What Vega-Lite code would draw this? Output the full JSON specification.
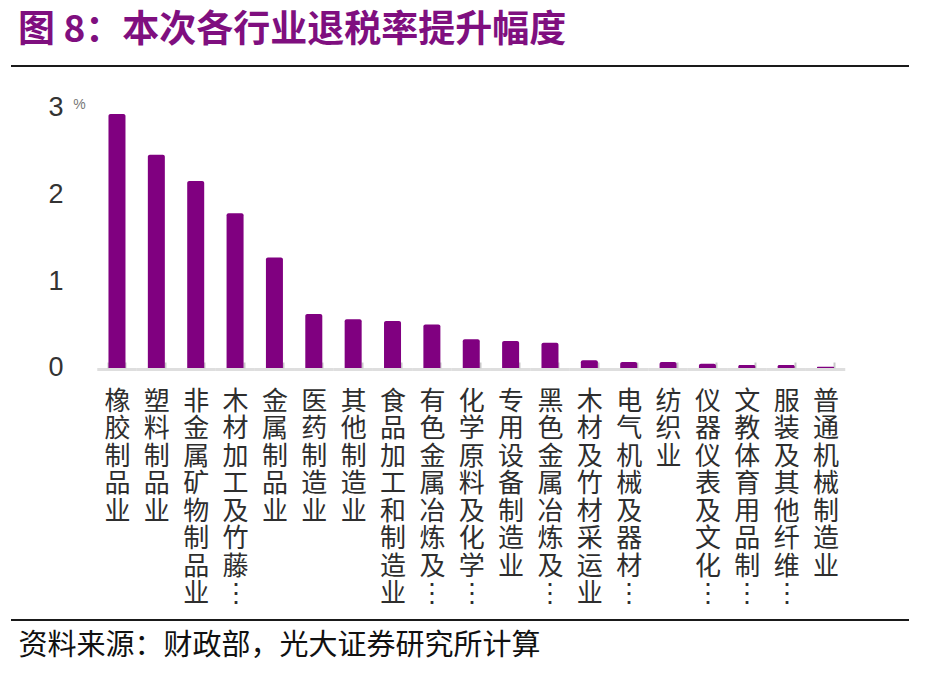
{
  "$schema": "https://vega.github.io/schema/vega-lite/v6.json",
  "width": 898,
  "height": 554,
  "autosize": {"type": "none"},
  "padding": {"left": 11, "top": 66, "right": 17, "bottom": 54},
  "background": "white",
  "config": {"view": {"stroke": null}},
  "title": {
    "text": "图 8：本次各行业退税率提升幅度",
    "anchor": "start",
    "frame": "group",
    "orient": "top",
    "offset": -14,
    "dx": 7,
    "font": "Noto Sans CJK SC",
    "fontSize": 37,
    "fontWeight": "bold",
    "color": "#7F0F7F",
    "baseline": "alphabetic"
  },
  "data": {
    "values": [
      {"industry": "橡胶制品业", "rise": 2.92},
      {"industry": "塑料制品业", "rise": 2.45},
      {"industry": "非金属矿物制品业", "rise": 2.15},
      {"industry": "木材加工及竹藤棕草制品业", "rise": 1.78},
      {"industry": "金属制品业", "rise": 1.27},
      {"industry": "医药制造业", "rise": 0.62},
      {"industry": "其他制造业", "rise": 0.56},
      {"industry": "食品加工和制造业", "rise": 0.54},
      {"industry": "有色金属冶炼及压延加工业", "rise": 0.5},
      {"industry": "化学原料及化学制品制造业", "rise": 0.33},
      {"industry": "专用设备制造业", "rise": 0.31},
      {"industry": "黑色金属冶炼及压延加工业", "rise": 0.29},
      {"industry": "木材及竹材采运业", "rise": 0.09},
      {"industry": "电气机械及器材制造业", "rise": 0.07},
      {"industry": "纺织业", "rise": 0.07},
      {"industry": "仪器仪表及文化办公用机械制造业", "rise": 0.05},
      {"industry": "文教体育用品制造业", "rise": 0.035},
      {"industry": "服装及其他纤维制品制造业", "rise": 0.035},
      {"industry": "普通机械制造业", "rise": 0.015}
    ]
  },
  "layer": [
    {
      "encoding": {
        "x": {
          "field": "industry",
          "type": "nominal",
          "sort": null,
          "scale": {"range": [86.3, 834.2], "paddingInner": 0.568, "paddingOuter": 0.284, "align": 0.5},
          "axis": {
            "orient": "bottom",
            "offset": -252,
            "domain": false,
            "ticks": true,
            "tickBand": "extent",
            "tickSize": -6,
            "tickColor": "#c8c8c8",
            "tickWidth": 2,
            "labelAngle": 0,
            "labelExpr": "length(datum.label) > 8 ? split(substring(datum.label, 0, 7) + '⋮', '') : split(datum.label, '')",
            "labelFont": "Noto Sans CJK SC",
            "labelFontSize": 26,
            "labelLineHeight": 27.5,
            "labelColor": "#2e2e2e",
            "labelBaseline": "top",
            "labelAlign": "center",
            "labelPadding": 26,
            "labelOverlap": false,
            "labelBound": false,
            "labelFlush": false,
            "labelLimit": 0,
            "title": "资料来源：财政部，光大证券研究所计算",
            "titleFont": "Noto Sans CJK SC",
            "titleFontSize": 29,
            "titleFontWeight": "normal",
            "titleColor": "#111111",
            "titleX": 7,
            "titleY": 277,
            "titleAlign": "left",
            "titleAnchor": "start",
            "titleBaseline": "middle"
          }
        }
      },
      "layer": [
        {
          "mark": {"type": "tick", "orient": "horizontal", "size": 39.4, "thickness": 3, "color": "#d0d0d0", "yOffset": 1.5},
          "encoding": {"y": {"datum": 0, "type": "quantitative"}}
        },
        {
          "mark": {"type": "bar", "color": "#800080", "cornerRadiusTopLeft": 2, "cornerRadiusTopRight": 2},
          "encoding": {
            "y": {
              "field": "rise",
              "type": "quantitative",
              "stack": null,
              "scale": {"domain": [-2.8966, 3.4713], "nice": false, "zero": false},
              "axis": {
                "orient": "left",
                "offset": -60,
                "values": [0, 1, 2, 3],
                "format": "d",
                "domain": false,
                "ticks": false,
                "grid": false,
                "labelFont": "Liberation Sans",
                "labelFontSize": 27,
                "labelColor": "#333333",
                "labelPadding": 8,
                "labelBaseline": "middle",
                "title": "%",
                "titleAngle": 0,
                "titleFont": "Liberation Sans",
                "titleFontSize": 14,
                "titleFontWeight": "normal",
                "titleColor": "#777777",
                "titleX": 8,
                "titleY": 38,
                "titleAlign": "center",
                "titleBaseline": "middle"
              }
            }
          }
        }
      ]
    },
    {
      "data": {"values": [{}]},
      "mark": {"type": "rule", "color": "#1a1a1a", "strokeWidth": 2},
      "encoding": {"y": {"datum": 3.4713, "type": "quantitative"}}
    },
    {
      "data": {"values": [{}]},
      "mark": {"type": "rule", "color": "#1a1a1a", "strokeWidth": 2},
      "encoding": {"y": {"datum": -2.8966, "type": "quantitative"}}
    }
  ]
}
